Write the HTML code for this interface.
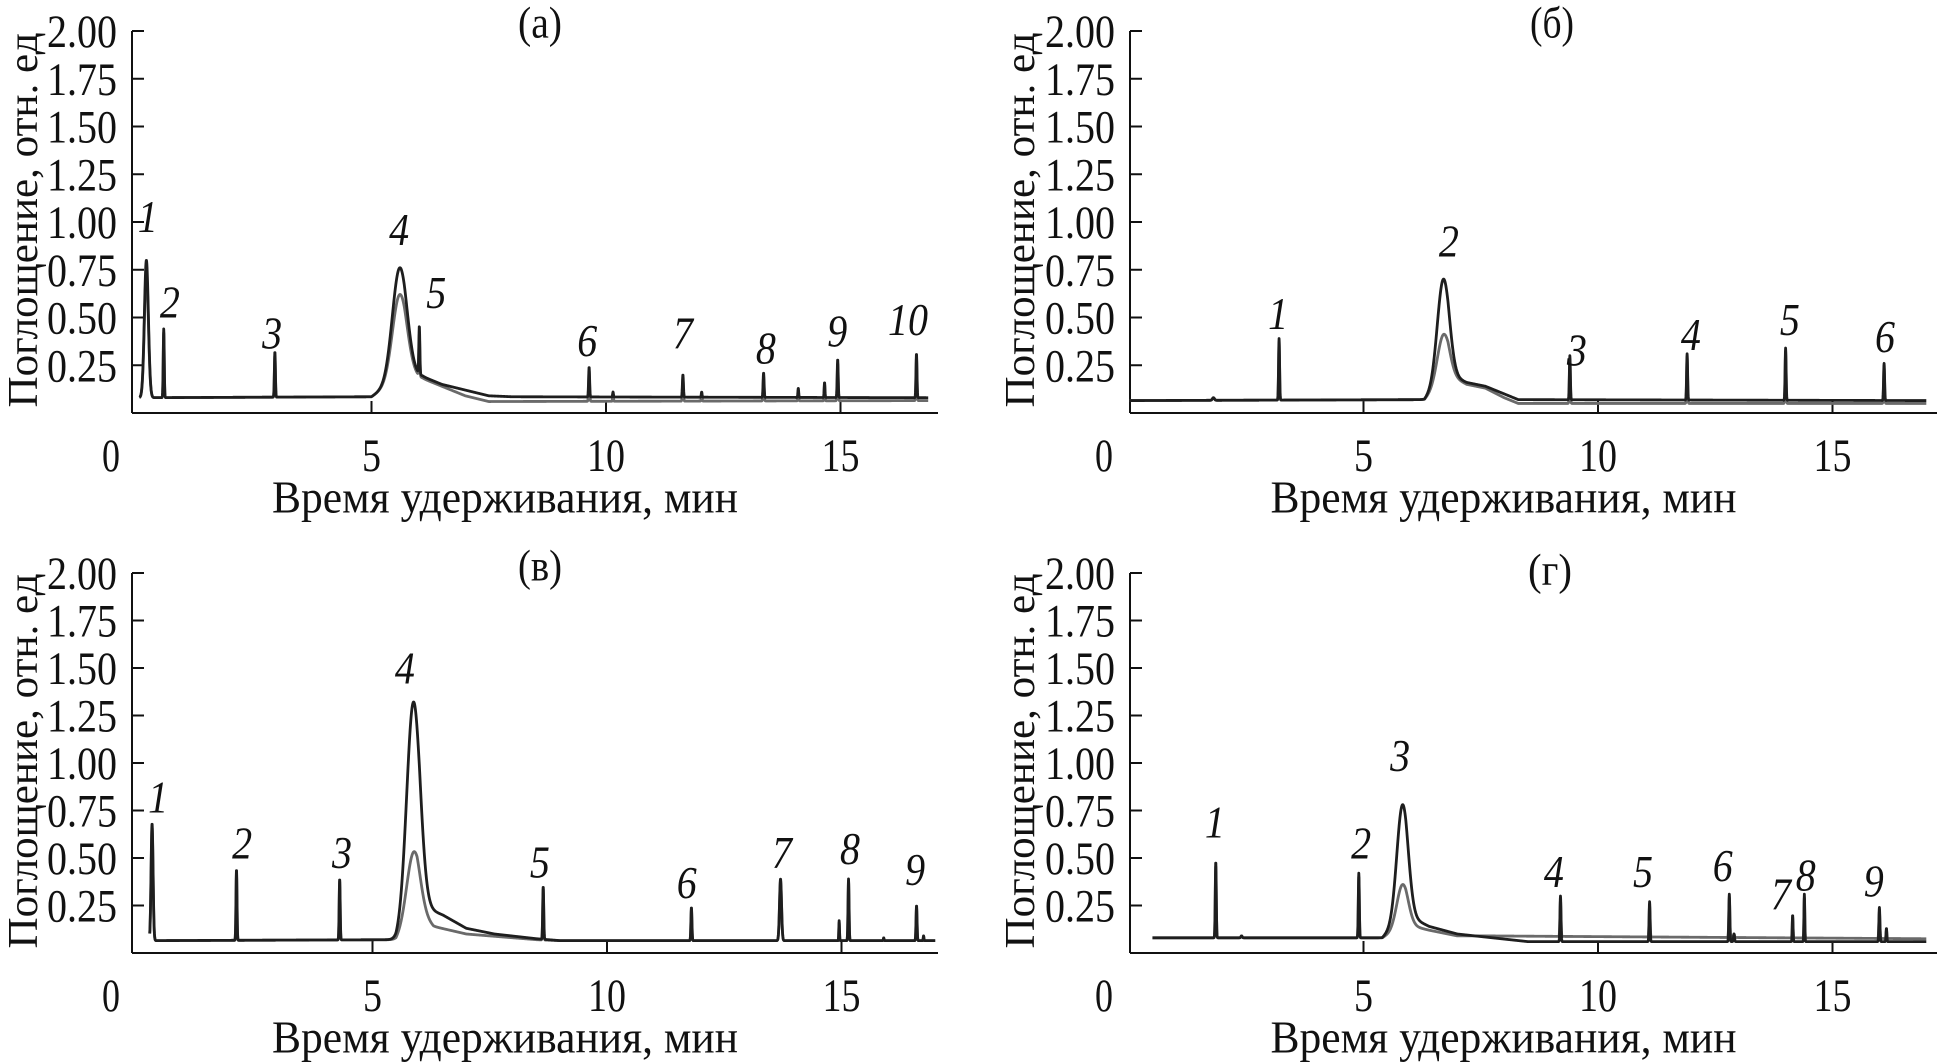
<!DOCTYPE html>
<html><head><meta charset="utf-8"><title>Chromatograms</title>
<style>
html,body{margin:0;padding:0;background:#fff;}
svg{display:block;font-family:"Liberation Serif","DejaVu Serif",serif;}
</style></head>
<body>
<svg id="chart" width="1938" height="1064" viewBox="0 0 1938 1064" xmlns="http://www.w3.org/2000/svg"></svg>
<script>
// ---- data (time in min, absorbance in rel. units) ----
const yTicks = [0.25, 0.5, 0.75, 1.0, 1.25, 1.5, 1.75, 2.0];
const yTickLabels = ["0.25","0.50","0.75","1.00","1.25","1.50","1.75","2.00"];
const xTicks = [5, 10, 15];
const xTickLabels = ["0","5","10","15"];
const panelTitles = ["(a)","(б)","(в)","(г)"];

// panel а
const aTimes = [0.2,0.57,2.94,5.6,6.02,9.64,10.15,11.64,12.04,13.36,14.1,14.66,14.94,16.62];
const aDark  = [0.8,0.44,0.32,0.76,0.44,0.24,0.11,0.2,0.11,0.21,0.13,0.16,0.28,0.31];
const aGray  = [0.74,0.42,0.3,0.62,0.4,0.22,0.1,0.18,0.1,0.19,0.12,0.15,0.26,0.29];
const aWidth = [0.06,0.015,0.015,0.22,0.015,0.015,0.012,0.015,0.012,0.015,0.012,0.012,0.015,0.015];
const aBaseDark = [[0.05,0.08],[5.0,0.085],[5.7,0.2],[6.1,0.19],[6.5,0.15],[7.0,0.12],[7.5,0.09],[8,0.085],[16.87,0.08]];
const aBaseGray = [[0.05,0.08],[5.0,0.085],[5.7,0.2],[6.1,0.18],[6.5,0.14],[7.0,0.09],[7.5,0.06],[16.87,0.065]];
const aLabels = ["1","2","3","4","5","6","7","8","9","10"];
const aLabelT = [0.23,0.7,2.88,5.59,6.38,9.6,11.64,13.41,14.93,16.44];
const aLabelV = [1.03,0.58,0.42,0.96,0.63,0.38,0.42,0.34,0.43,0.49];

// panel б
const bTimes = [1.8,3.2,6.7,9.4,11.9,14.0,16.1];
const bDark  = [0.08,0.39,0.70,0.3,0.31,0.34,0.26];
const bGray  = [0.08,0.37,0.41,0.28,0.29,0.32,0.24];
const bWidth = [0.03,0.015,0.18,0.015,0.015,0.015,0.015];
const bBaseDark = [[0.0,0.065],[6.3,0.07],[6.8,0.2],[7.2,0.16],[7.6,0.14],[8.0,0.1],[8.3,0.07],[17.0,0.065]];
const bBaseGray = [[0.0,0.065],[6.3,0.07],[6.8,0.2],[7.2,0.15],[7.6,0.13],[8.0,0.08],[8.3,0.05],[17.0,0.05]];
const bLabels = ["1","2","3","4","5","6"];
const bLabelT = [3.18,6.82,9.55,11.98,14.09,16.12];
const bLabelV = [0.52,0.9,0.33,0.41,0.49,0.4];

// panel в
const cTimes = [0.3,2.1,4.3,5.87,8.64,11.8,13.7,14.95,15.15,15.9,16.6,16.75];
const cDark  = [0.68,0.44,0.39,1.32,0.35,0.24,0.39,0.17,0.39,0.08,0.25,0.09];
const cGray  = [0.66,0.43,0.38,0.53,0.34,0.23,0.38,0.16,0.38,0.08,0.24,0.09];
const cWidth = [0.03,0.015,0.015,0.2,0.015,0.015,0.03,0.01,0.015,0.01,0.015,0.01];
const cBaseDark = [[0.25,0.065],[5.5,0.07],[6.0,0.25],[6.5,0.2],[7.0,0.13],[7.6,0.1],[8.5,0.075],[9.0,0.065],[17.0,0.065]];
const cBaseGray = [[0.25,0.065],[5.5,0.07],[5.95,0.22],[6.3,0.14],[7.0,0.1],[8.5,0.07],[9.0,0.065],[17.0,0.065]];
const cLabels = ["1","2","3","4","5","6","7","8","9"];
const cLabelT = [0.43,2.22,4.35,5.69,8.57,11.7,13.73,15.18,16.57];
const cLabelV = [0.82,0.58,0.53,1.5,0.48,0.37,0.53,0.55,0.44];

// panel г
const dTimes = [1.85,2.4,4.9,5.83,9.2,11.1,12.8,12.9,14.15,14.4,16.0,16.15];
const dDark  = [0.48,0.09,0.42,0.78,0.30,0.27,0.31,0.1,0.2,0.31,0.24,0.13];
const dGray  = [0.46,0.09,0.40,0.36,0.28,0.25,0.29,0.1,0.19,0.29,0.22,0.12];
const dWidth = [0.015,0.02,0.015,0.17,0.015,0.015,0.015,0.015,0.012,0.012,0.015,0.012];
const dBaseDark = [[0.5,0.08],[5.4,0.08],[5.9,0.2],[6.4,0.14],[7.0,0.1],[8.5,0.06],[17.0,0.06]];
const dBaseGray = [[0.5,0.08],[5.4,0.08],[5.9,0.15],[6.4,0.12],[7.0,0.09],[7.6,0.09],[17.0,0.075]];
const dLabels = ["1","2","3","4","5","6","7","8","9"];
const dLabelT = [1.83,4.95,5.78,9.06,10.96,12.66,13.9,14.43,15.88];
const dLabelV = [0.69,0.58,1.04,0.43,0.43,0.46,0.31,0.41,0.38];

// ---- layout ----
const NS = "http://www.w3.org/2000/svg";
const svg = document.getElementById('chart');
const layouts = [
  {axisX:132, t0:137, ppm:46.9, endX:938, yZero:413, ppu:191, titleX:540, titleY:23, yTitleX:24, labelRight:117, zeroLblX:111},
  {axisX:1130, t0:1129, ppm:46.9, endX:1937, yZero:413, ppu:191, titleX:1552, titleY:23, yTitleX:1021, labelRight:1115, zeroLblX:1104},
  {axisX:132, t0:138, ppm:46.9, endX:938, yZero:953, ppu:190, titleX:540, titleY:566, yTitleX:24, labelRight:117, zeroLblX:111},
  {axisX:1130, t0:1129, ppm:46.9, endX:1937, yZero:953, ppu:190, titleX:1550, titleY:570, yTitleX:1021, labelRight:1115, zeroLblX:1104}
];
const panels = [
  {times:aTimes, dark:aDark, gray:aGray, width:aWidth, baseDark:aBaseDark, baseGray:aBaseGray, labels:aLabels, lt:aLabelT, lv:aLabelV},
  {times:bTimes, dark:bDark, gray:bGray, width:bWidth, baseDark:bBaseDark, baseGray:bBaseGray, labels:bLabels, lt:bLabelT, lv:bLabelV},
  {times:cTimes, dark:cDark, gray:cGray, width:cWidth, baseDark:cBaseDark, baseGray:cBaseGray, labels:cLabels, lt:cLabelT, lv:cLabelV},
  {times:dTimes, dark:dDark, gray:dGray, width:dWidth, baseDark:dBaseDark, baseGray:dBaseGray, labels:dLabels, lt:dLabelT, lv:dLabelV}
];

function mk(tag, attrs, parent){
  const e = document.createElementNS(NS, tag);
  for (const k in attrs) e.setAttribute(k, attrs[k]);
  (parent||svg).appendChild(e);
  return e;
}
function baseAt(base, t){
  if (t <= base[0][0]) return base[0][1];
  for (let i=1;i<base.length;i++){
    if (t <= base[i][0]){
      const a=base[i-1], b=base[i];
      return a[1] + (b[1]-a[1])*(t-a[0])/(b[0]-a[0]);
    }
  }
  return base[base.length-1][1];
}
function tracePath(p, L, apex, base){
  const xs = t => L.t0 + t*L.ppm;
  const ys = v => L.yZero - v*L.ppu;
  const amps = apex.map((h,i)=> h - baseAt(base, p.times[i]));
  const tStart = base[0][0], tEnd = base[base.length-1][0];
  let d = "";
  for (let t=tStart; t<=tEnd+1e-9; t+=0.004){
    let v = baseAt(base, t);
    for (let i=0;i<p.times.length;i++){
      const z = (t - p.times[i]) / p.width[i];
      if (Math.abs(z) < 5) v += amps[i]*Math.exp(-z*z);
    }
    d += (d ? "L" : "M") + xs(t).toFixed(2) + "," + ys(v).toFixed(2);
  }
  return d;
}

panels.forEach((p, pi) => {
  const L = layouts[pi];
  const g = mk('g', {});
  
  
  const xs = t => L.t0 + t*L.ppm;
  const ys = v => L.yZero - v*L.ppu;

  const title = mk('text', {x:L.titleX, y:L.titleY, 'font-size':44, 'text-anchor':'middle', 'dominant-baseline':'central', fill:'#111', textLength:44, lengthAdjust:'spacingAndGlyphs'}, g);
  title.textContent = panelTitles[pi];
  
  

  const topY = ys(2.0);
  const yAxis = mk('line', {x1:L.axisX, y1:topY, x2:L.axisX, y2:L.yZero, stroke:'#111', 'stroke-width':2}, g);
  
  
  const xAxis = mk('line', {x1:L.axisX, y1:L.yZero, x2:L.endX, y2:L.yZero, stroke:'#111', 'stroke-width':2}, g);
  
  

  yTicks.forEach((v, i) => {
    const tk = mk('line', {x1:L.axisX, y1:ys(v), x2:L.axisX+12, y2:ys(v), stroke:'#111', 'stroke-width':2}, g);
    
    
    const tl = mk('text', {x:L.labelRight, y:ys(v)+1, 'font-size':47, 'text-anchor':'end', 'dominant-baseline':'central', fill:'#111', textLength:70, lengthAdjust:'spacingAndGlyphs'}, g);
    tl.textContent = yTickLabels[i];
    
    
  });
  const z = mk('text', {x:L.zeroLblX, y:L.yZero+43, 'font-size':47, 'text-anchor':'middle', 'dominant-baseline':'central', fill:'#111', textLength:18, lengthAdjust:'spacingAndGlyphs'}, g);
  z.textContent = xTickLabels[0];
  
  
  xTicks.forEach((t, i) => {
    const tk = mk('line', {x1:xs(t), y1:L.yZero, x2:xs(t), y2:L.yZero-12, stroke:'#111', 'stroke-width':2}, g);
    
    
    const lbl = xTickLabels[i+1];
    const tl = mk('text', {x:xs(t), y:L.yZero+43, 'font-size':47, 'text-anchor':'middle', 'dominant-baseline':'central', fill:'#111', textLength:lbl.length*19, lengthAdjust:'spacingAndGlyphs'}, g);
    tl.textContent = lbl;
    
    
  });

  const xt = mk('text', {x:(L.axisX+L.endX)/2 - 30, y:L.yZero+84, 'font-size':46, 'text-anchor':'middle', 'dominant-baseline':'central', fill:'#111', textLength:466, lengthAdjust:'spacingAndGlyphs'}, g);
  xt.textContent = "Время удерживания, мин";
  
  
  const cy = (topY + L.yZero)/2 - 2;
  const yt = mk('text', {x:L.yTitleX, y:cy, 'font-size':42, 'text-anchor':'middle', 'dominant-baseline':'central', fill:'#111', textLength:375, lengthAdjust:'spacingAndGlyphs', transform:'rotate(-90 '+L.yTitleX+' '+cy+')'}, g);
  yt.textContent = "Поглощение, отн. ед";
  
  

  const gp = mk('path', {d:tracePath(p, L, p.gray, p.baseGray), fill:'none', stroke:'#6a6a6a', 'stroke-width':2.8, 'stroke-linejoin':'round'}, g);
  
  
  const dp = mk('path', {d:tracePath(p, L, p.dark, p.baseDark), fill:'none', stroke:'#1e1e1e', 'stroke-width':2.8, 'stroke-linejoin':'round'}, g);
  
  

  p.labels.forEach((lab, i) => {
    const t = mk('text', {x:xs(p.lt[i]), y:ys(p.lv[i]), 'font-size':46, 'font-style':'italic', 'text-anchor':'middle', 'dominant-baseline':'central', fill:'#111', textLength:lab.length*20, lengthAdjust:'spacingAndGlyphs'}, g);
    t.textContent = lab;
    
    
  });
});
</script>
</body></html>
